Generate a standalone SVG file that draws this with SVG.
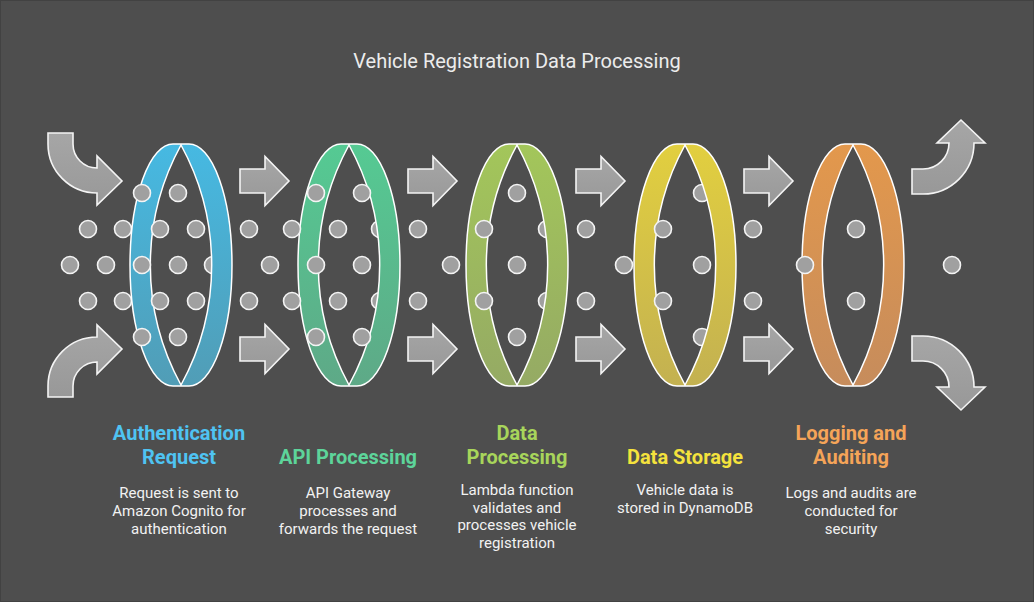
<svg xmlns="http://www.w3.org/2000/svg" width="1034" height="602" viewBox="0 0 1034 602">
<defs>
<linearGradient id="gBlue" x1="0" y1="0" x2="0" y2="1"><stop offset="0" stop-color="#46b9e2"/><stop offset="1" stop-color="#519db6"/></linearGradient>
<linearGradient id="gGreen" x1="0" y1="0" x2="0" y2="1"><stop offset="0" stop-color="#55ca93"/><stop offset="1" stop-color="#5ea987"/></linearGradient>
<linearGradient id="gLime" x1="0" y1="0" x2="0" y2="1"><stop offset="0" stop-color="#a3c65a"/><stop offset="1" stop-color="#95aa64"/></linearGradient>
<linearGradient id="gYellow" x1="0" y1="0" x2="0" y2="1"><stop offset="0" stop-color="#e2cf3f"/><stop offset="1" stop-color="#c3b151"/></linearGradient>
<linearGradient id="gOrange" x1="0" y1="0" x2="0" y2="1"><stop offset="0" stop-color="#e3984c"/><stop offset="1" stop-color="#c68c5c"/></linearGradient>
<linearGradient id="gArrow" x1="0" y1="0" x2="0" y2="1"><stop offset="0" stop-color="#a6a6a6"/><stop offset="1" stop-color="#989898"/></linearGradient>
<path id="ring" d="M-8,-121 H8 A43,121 0 0 1 8,121 H-8 A43,121 0 0 1 -8,-121 Z M0,-120 A250,250 0 0 1 0,120 A250,250 0 0 1 0,-120 Z"/>
<path id="sarrow" d="M0,-12 H25 V-24.5 L49,0 L25,24.5 V12 H0 Z"/>
</defs>
<style>
.bg{fill:#4e4e4e;stroke:#424242;stroke-width:2}
.ring{fill-rule:evenodd;stroke:#ffffff;stroke-width:1.5;stroke-linejoin:round}
.dot{fill:#a0a0a0;stroke:#f4f4f4;stroke-width:1.6}
.arrow{fill:url(#gArrow);stroke:#f4f4f4;stroke-width:1.6;stroke-linejoin:miter}
.title{font-family:Roboto,"Liberation Sans",sans-serif;font-size:20px;fill:#ececec;text-anchor:middle}
.head{font-family:Roboto,"Liberation Sans",sans-serif;font-size:20px;font-weight:bold;text-anchor:middle}
.body{font-family:Roboto,"Liberation Sans",sans-serif;font-size:15px;fill:#f2f2f2;text-anchor:middle}
</style>
<rect class="bg" x="0" y="0" width="1034" height="602"/>
<text class="title" x="517" y="68">Vehicle Registration Data Processing</text>

<g id="connectors">
<path class="arrow" d="M48,133 H73 V144 A24,24 0 0 0 97,168 V156 L122,181 L97,205 V193 A49,49 0 0 1 48,144 Z"/>
<path class="arrow" d="M48,397 H73 V386 A24,24 0 0 1 97,362 V374 L122,349 L97,325 V337 A49,49 0 0 0 48,386 Z"/>
<use class="arrow" href="#sarrow" x="240" y="181"/>
<use class="arrow" href="#sarrow" x="240" y="349"/>
<use class="arrow" href="#sarrow" x="408" y="181"/>
<use class="arrow" href="#sarrow" x="408" y="349"/>
<use class="arrow" href="#sarrow" x="576" y="181"/>
<use class="arrow" href="#sarrow" x="576" y="349"/>
<use class="arrow" href="#sarrow" x="744" y="181"/>
<use class="arrow" href="#sarrow" x="744" y="349"/>
<path class="arrow" d="M912,169 H923 A26,26 0 0 0 949,143 H937 L961,120 L985,143 H974 A51,51 0 0 1 923,194 H912 Z"/>
<path class="arrow" d="M912,361 H923 A26,26 0 0 1 949,387 H937 L961,410 L985,387 H974 A51,51 0 0 0 923,336 H912 Z"/>
</g>

<g id="dots-free">
<circle class="dot" cx="70" cy="265" r="8.5"/>
<circle class="dot" cx="106" cy="265" r="8.5"/>
<circle class="dot" cx="88" cy="229" r="8.5"/>
<circle class="dot" cx="88" cy="301" r="8.5"/>
<circle class="dot" cx="249" cy="229" r="8.5"/>
<circle class="dot" cx="249" cy="301" r="8.5"/>
<circle class="dot" cx="270" cy="265" r="8.5"/>
<circle class="dot" cx="418" cy="229" r="8.5"/>
<circle class="dot" cx="418" cy="301" r="8.5"/>
<circle class="dot" cx="451" cy="265" r="8.5"/>
<circle class="dot" cx="586" cy="229" r="8.5"/>
<circle class="dot" cx="586" cy="301" r="8.5"/>
<circle class="dot" cx="753" cy="229" r="8.5"/>
<circle class="dot" cx="753" cy="301" r="8.5"/>
<circle class="dot" cx="952" cy="265" r="8.5"/>
</g>

<g id="dots-behind">
<circle class="dot" cx="123" cy="229" r="8.5"/>
<circle class="dot" cx="123" cy="301" r="8.5"/>
<circle class="dot" cx="213" cy="265" r="8.5"/>
<circle class="dot" cx="380" cy="229" r="8.5"/>
<circle class="dot" cx="380" cy="301" r="8.5"/>
<circle class="dot" cx="547" cy="229" r="8.5"/>
<circle class="dot" cx="547" cy="301" r="8.5"/>
<circle class="dot" cx="624" cy="265" r="8.5"/>
<circle class="dot" cx="702" cy="193" r="8.5"/>
<circle class="dot" cx="702" cy="337" r="8.5"/>
</g>

<g id="node-authentication">
<use class="ring" href="#ring" x="181" y="265" fill="url(#gBlue)"/>
<circle class="dot" cx="142" cy="193" r="8.5"/>
<circle class="dot" cx="178" cy="193" r="8.5"/>
<circle class="dot" cx="160" cy="229" r="8.5"/>
<circle class="dot" cx="196" cy="229" r="8.5"/>
<circle class="dot" cx="142" cy="265" r="8.5"/>
<circle class="dot" cx="178" cy="265" r="8.5"/>
<circle class="dot" cx="160" cy="301" r="8.5"/>
<circle class="dot" cx="196" cy="301" r="8.5"/>
<circle class="dot" cx="142" cy="337" r="8.5"/>
<circle class="dot" cx="178" cy="337" r="8.5"/>
<text class="head" fill="#4fc3f2"><tspan x="179" y="440">Authentication</tspan><tspan x="179" y="464">Request</tspan></text>
<text class="body"><tspan x="179" y="498">Request is sent to</tspan><tspan x="179" y="516">Amazon Cognito for</tspan><tspan x="179" y="533.5">authentication</tspan></text>
</g>

<g id="node-api">
<use class="ring" href="#ring" x="349" y="265" fill="url(#gGreen)"/>
<circle class="dot" cx="292" cy="229" r="8.5"/>
<circle class="dot" cx="292" cy="301" r="8.5"/>
<circle class="dot" cx="316" cy="193" r="8.5"/>
<circle class="dot" cx="316" cy="265" r="8.5"/>
<circle class="dot" cx="316" cy="337" r="8.5"/>
<circle class="dot" cx="338" cy="229" r="8.5"/>
<circle class="dot" cx="338" cy="301" r="8.5"/>
<circle class="dot" cx="362" cy="193" r="8.5"/>
<circle class="dot" cx="362" cy="265" r="8.5"/>
<circle class="dot" cx="362" cy="337" r="8.5"/>
<text class="head" fill="#5dd49a" x="348" y="464">API Processing</text>
<text class="body"><tspan x="348" y="498">API Gateway</tspan><tspan x="348" y="516">processes and</tspan><tspan x="348" y="533.5">forwards the request</tspan></text>
</g>

<g id="node-data-processing">
<use class="ring" href="#ring" x="517" y="265" fill="url(#gLime)"/>
<circle class="dot" cx="484" cy="229" r="8.5"/>
<circle class="dot" cx="484" cy="301" r="8.5"/>
<circle class="dot" cx="517" cy="193" r="8.5"/>
<circle class="dot" cx="517" cy="265" r="8.5"/>
<circle class="dot" cx="517" cy="337" r="8.5"/>
<text class="head" fill="#a8d55b"><tspan x="517" y="440">Data</tspan><tspan x="517" y="464">Processing</tspan></text>
<text class="body"><tspan x="517" y="495">Lambda function</tspan><tspan x="517" y="512.7">validates and</tspan><tspan x="517" y="530.3">processes vehicle</tspan><tspan x="517" y="548">registration</tspan></text>
</g>

<g id="node-data-storage">
<use class="ring" href="#ring" x="685" y="265" fill="url(#gYellow)"/>
<circle class="dot" cx="663" cy="229" r="8.5"/>
<circle class="dot" cx="663" cy="301" r="8.5"/>
<circle class="dot" cx="702" cy="265" r="8.5"/>
<text class="head" fill="#f4e23d" x="685" y="464">Data Storage</text>
<text class="body"><tspan x="685" y="495">Vehicle data is</tspan><tspan x="685" y="512.7">stored in DynamoDB</tspan></text>
</g>

<g id="node-logging">
<use class="ring" href="#ring" x="853" y="265" fill="url(#gOrange)"/>
<circle class="dot" cx="805" cy="265" r="8.5"/>
<circle class="dot" cx="856" cy="229" r="8.5"/>
<circle class="dot" cx="856" cy="301" r="8.5"/>
<text class="head" fill="#f5a458"><tspan x="851" y="440">Logging and</tspan><tspan x="851" y="464">Auditing</tspan></text>
<text class="body"><tspan x="851" y="498">Logs and audits are</tspan><tspan x="851" y="516">conducted for</tspan><tspan x="851" y="533.5">security</tspan></text>
</g>
</svg>
